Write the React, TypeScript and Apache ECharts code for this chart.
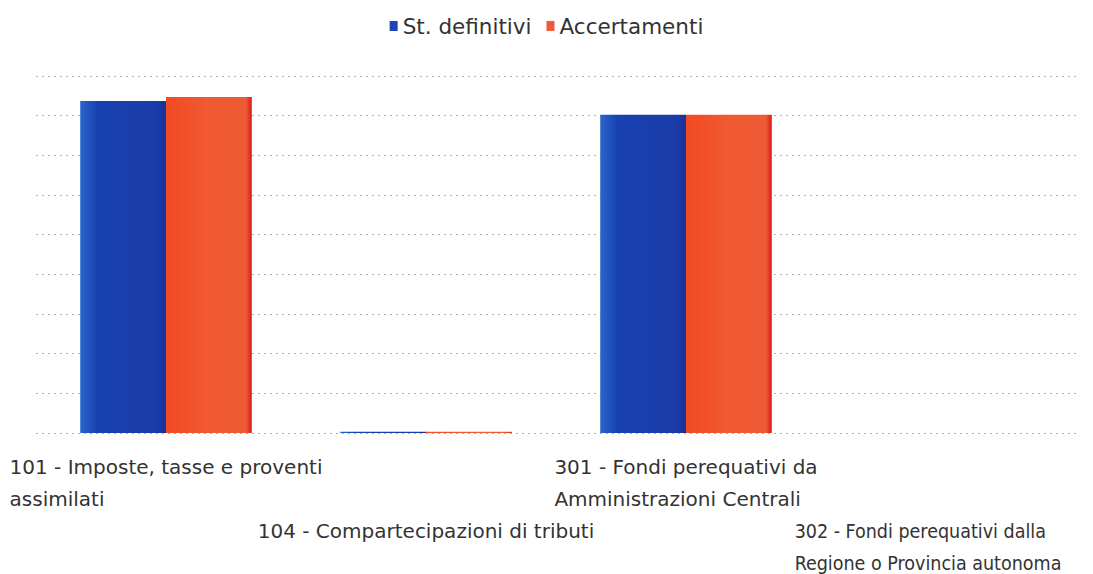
import React, { useEffect, useRef } from "react";
import * as echarts from "echarts";

const categories = [
  "101 - Imposte, tasse e proventi\nassimilati",
  "104 - Compartecipazioni di tributi",
  "301 - Fondi perequativi da\nAmministrazioni Centrali",
  "302 - Fondi perequativi dalla\nRegione o Provincia autonoma",
];
const labelRow = [0, 1, 0, 1];
const stDefinitivi = [8.37, 0.03, 8.02, 0];
const accertamenti = [8.47, 0.03, 8.02, 0];
const seriesNames = ["St. definitivi", "Accertamenti"];

const FONT = "DejaVu Sans";

export default function App() {
  const ref = useRef<HTMLDivElement>(null);
  useEffect(() => {
    document.body.style.margin = "0";
    const chart = echarts.init(ref.current!, null, { renderer: "svg" });
    const blue = new echarts.graphic.LinearGradient(0, 0, 1, 0, [
      { offset: 0, color: "#2a66cc" },
      { offset: 0.2, color: "#1842b0" },
      { offset: 0.9, color: "#1a3ca8" },
      { offset: 1, color: "#1a2f98" },
    ]);
    const red = new echarts.graphic.LinearGradient(0, 0, 1, 0, [
      { offset: 0, color: "#f24a24" },
      { offset: 0.5, color: "#f05a32" },
      { offset: 0.93, color: "#ee5a34" },
      { offset: 1, color: "#d81c1c" },
    ]);
    chart.setOption({
      animation: false,
      legend: {
        top: 10,
        left: "center",
        itemWidth: 8,
        itemHeight: 10,
        itemGap: 15,
        textStyle: { fontFamily: FONT, fontSize: 21.5, color: "#333" },
        data: [
          { name: seriesNames[0], icon: "rect", itemStyle: { color: "#1d45b0" } },
          { name: seriesNames[1], icon: "rect", itemStyle: { color: "#ee5a3c" } },
        ],
      },
      grid: { left: 36, right: 17, top: 76, bottom: 141, outerBoundsMode: "none", containLabel: false },
      xAxis: {
        type: "category",
        data: categories.map((c, i) => ({
          value: c,
          textStyle: i === 3 ? { padding: [0, 36, 0, 0] } : {},
        })),
        axisLine: { show: false },
        axisTick: { show: false },
        axisLabel: {
          interval: 0,
          margin: 18,
          fontFamily: FONT,
          fontSize: 20,
          lineHeight: 32,
          color: "#333",
          hideOverlap: false,
          formatter: (v: string, i: number) => {
            const key = i === 3 ? "b" : "a";
            const lines = v.split("\n").map((l) => `{${key}|${l}}`);
            const pre = labelRow[i] ? [`{${key}| }`, `{${key}| }`] : [];
            return [...pre, ...lines].join("\n");
          },
          rich: {
            a: { fontFamily: FONT, fontSize: 20, lineHeight: 32, color: "#333", align: "left" },
            b: { fontFamily: "DejaVu Sans Condensed", fontSize: 19.5, lineHeight: 32, color: "#333", align: "left" },
          },
        },
      },
      yAxis: {
        type: "value",
        min: 0,
        max: 9,
        interval: 1,
        axisLabel: { show: false },
        axisLine: { show: false },
        axisTick: { show: false },
        splitLine: { lineStyle: { type: [2, 4], color: "#b0b0b0", width: 1 } },
      },
      series: [
        {
          name: seriesNames[0],
          type: "bar",
          data: stDefinitivi,
          barGap: "0%",
          barCategoryGap: "34%",
          itemStyle: { color: blue },
        },
        {
          name: seriesNames[1],
          type: "bar",
          data: accertamenti,
          itemStyle: { color: red },
        },
      ],
    });
    return () => chart.dispose();
  }, []);
  return <div ref={ref} style={{ width: 1093, height: 574 }} />;
}
